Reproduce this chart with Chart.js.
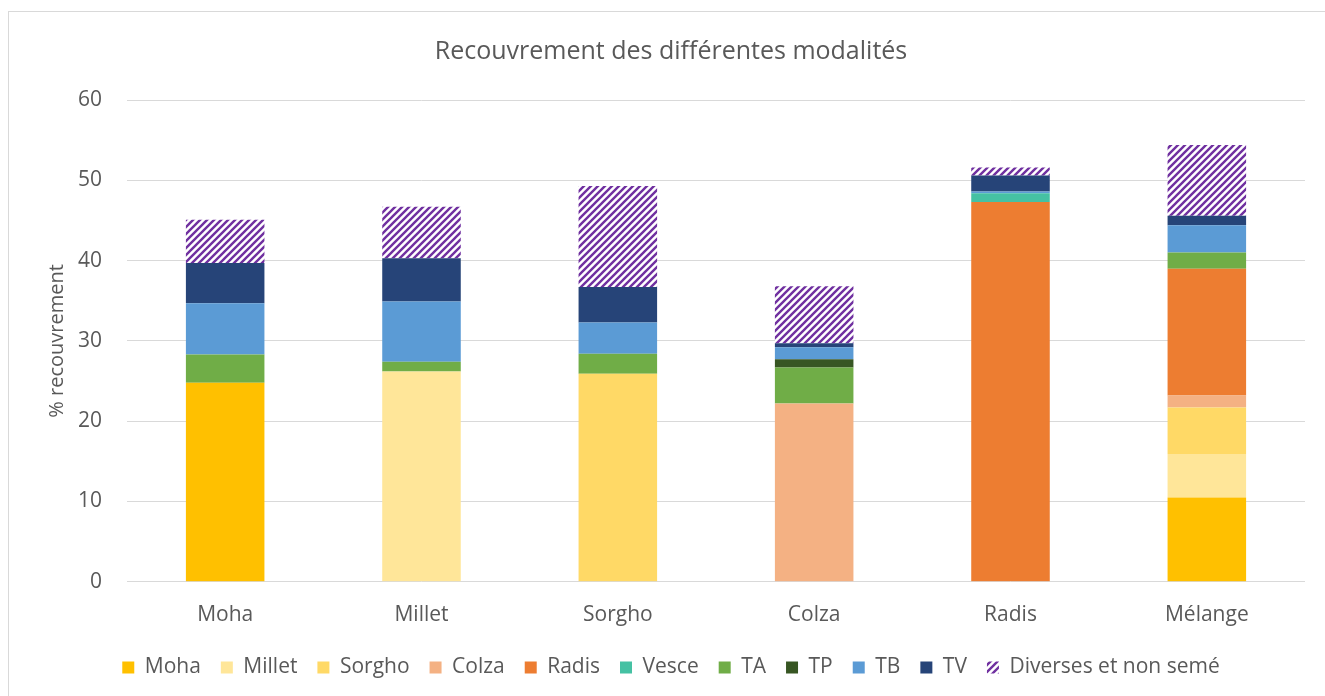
<!DOCTYPE html>
<html>
<head>
<meta charset="utf-8">
<script src="https://cdn.jsdelivr.net/npm/chart.js@4.4.1/dist/chart.umd.min.js"></script>
<style>
  html, body { margin: 0; padding: 0; background: #fff; }
  canvas { display: block; }
</style>
</head>
<body>
<canvas id="chart" width="1325" height="696"></canvas>
<script>
// categories and series (% recouvrement)
const categories = ['Moha', 'Millet', 'Sorgho', 'Colza', 'Radis', 'Mélange'];
const moha      = [24.8, 0,    0,    0,    0,    10.5];
const millet    = [0,    26.2, 0,    0,    0,    5.4];
const sorgho    = [0,    0,    25.9, 0,    0,    5.8];
const colza     = [0,    0,    0,    22.2, 0,    1.5];
const radis     = [0,    0,    0,    0,    47.3, 15.8];
const vesce     = [0,    0,    0,    0,    1.1,  0];
const ta        = [3.5,  1.2,  2.5,  4.5,  0,    2.0];
const tp        = [0,    0,    0,    1.0,  0,    0];
const tb        = [6.4,  7.5,  3.9,  1.5,  0.2,  3.4];
const tv        = [5.0,  5.4,  4.4,  0.5,  2.0,  1.2];
const diverses  = [5.4,  6.4,  12.6, 7.1,  1.0,  8.8];
const yTicks    = [0, 10, 20, 30, 40, 50, 60];

const TXT = '#595959';
const FONT = "'Open Sans', 'DejaVu Sans', sans-serif";

// hachures violettes pour "Diverses et non semé"
function hatch(color) {
  const s = 7;
  const c = document.createElement('canvas');
  c.width = s; c.height = s;
  const g = c.getContext('2d');
  g.fillStyle = '#fff';
  g.fillRect(0, 0, s, s);
  g.strokeStyle = color;
  g.lineWidth = 2.4;
  g.beginPath();
  g.moveTo(-1, s + 1); g.lineTo(s + 1, -1);
  g.moveTo(-s / 2 - 1, s / 2 + 1); g.lineTo(s / 2 + 1, -s / 2 - 1);
  g.moveTo(s / 2 - 1, s * 1.5 + 1); g.lineTo(s * 1.5 + 1, s / 2 - 1);
  g.stroke();
  return g.createPattern(c, 'repeat');
}

const frame = {
  id: 'frame',
  beforeDraw(chart) {
    const ctx = chart.ctx;
    ctx.save();
    ctx.fillStyle = '#fff';
    ctx.fillRect(0, 0, chart.width, chart.height);
    ctx.strokeStyle = '#d9d9d9';
    ctx.lineWidth = 1;
    ctx.strokeRect(8.5, 11.5, chart.width + 20, chart.height + 20);
    ctx.restore();
  }
};

const mk = (label, data, color) => ({
  label, data, backgroundColor: color, borderWidth: 0, stack: 's'
});

const datasets = [
  mk('Moha', moha, '#FFC000'),
  mk('Millet', millet, '#FFE699'),
  mk('Sorgho', sorgho, '#FFD966'),
  mk('Colza', colza, '#F4B183'),
  mk('Radis', radis, '#ED7D31'),
  mk('Vesce', vesce, '#45C1A3'),
  mk('TA', ta, '#70AD47'),
  mk('TP', tp, '#375623'),
  mk('TB', tb, '#5B9BD5'),
  mk('TV', tv, '#264478'),
  mk('Diverses et non semé', diverses, hatch('#7030A0'))
];

new Chart(document.getElementById('chart'), {
  type: 'bar',
  data: { labels: categories, datasets },
  options: {
    responsive: false,
    animation: false,
    layout: { padding: { left: 37, right: 20, top: 37, bottom: 8 } },
    datasets: { bar: { categoryPercentage: 1, barPercentage: 0.4 } },
    plugins: {
      title: {
        display: true,
        text: 'Recouvrement des différentes modalités',
        color: TXT,
        font: { family: FONT, size: 25, weight: 'normal' },
        padding: { top: 0, bottom: 33 }
      },
      legend: {
        position: 'bottom',
        labels: {
          color: TXT,
          font: { family: FONT, size: 21 },
          boxWidth: 12, boxHeight: 12,
          padding: 20
        }
      },
      tooltip: { enabled: false }
    },
    scales: {
      x: {
        stacked: true,
        grid: { display: false },
        border: { display: false },
        ticks: { color: TXT, font: { family: FONT, size: 21 }, padding: 13 },
        afterFit(axis) { axis.height -= 4; }
      },
      y: {
        stacked: true,
        min: yTicks[0],
        max: yTicks[yTicks.length - 1],
        afterBuildTicks(axis) { axis.ticks = yTicks.map(v => ({ value: v })); },
        afterFit(axis) { axis.width = 90; },
        grid: { color: '#d9d9d9', lineWidth: 1, drawTicks: false },
        border: { display: false },
        ticks: { color: TXT, font: { family: FONT, size: 21 }, padding: 25 },
        title: {
          display: true,
          text: '% recouvrement',
          color: TXT,
          font: { family: FONT, size: 20 },
          padding: { top: 8, bottom: 6 }
        }
      }
    }
  },
  plugins: [frame]
});
</script>
</body>
</html>
